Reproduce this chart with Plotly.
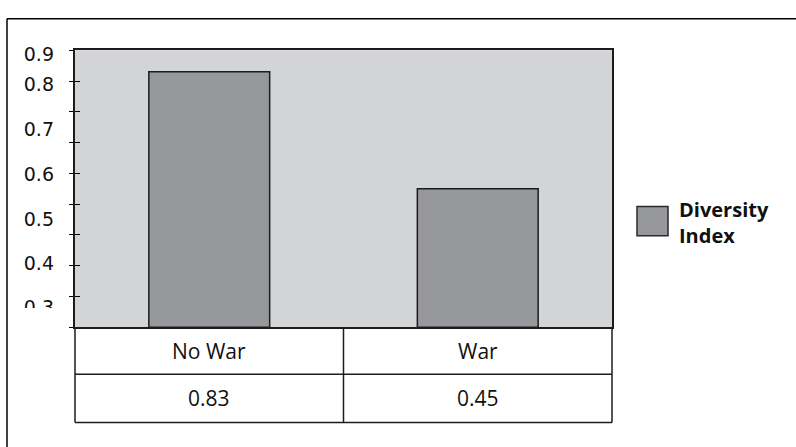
import plotly.graph_objects as go

# ---- data ----
categories = ["No War", "War"]
diversity_index = [0.83, 0.45]
series_name = "Diversity Index"
axis_tick_labels = ["0.9", "0.8", "0.7", "0.6", "0.5", "0.4", "0.3"]

# ---- layout helpers (pixel -> paper) ----
W, H = 796, 447


def px(x):
    return x / W


def py(y):
    return 1 - y / H


PLOT_L, PLOT_R, PLOT_T, PLOT_B = 75, 612, 43, 325
ROW1_B, ROW2_B = 373, 422
Y_RANGE = [0, 0.9]
# vertical placement of the axis labels along the value scale
label_positions = [0.888, 0.788, 0.643, 0.498, 0.352, 0.208, 0.064]

BG = "#D3D4D6"
BAR = "#97989C"
EDGE = "#1c1c1c"

fig = go.Figure()

fig.add_trace(go.Bar(
    x=categories,
    y=diversity_index,
    name=series_name,
    width=0.45,
    marker=dict(color=BAR, line=dict(color=EDGE, width=1.5)),
    showlegend=False,
    hoverinfo="x+y",
))
# empty traces so the overlay axes (cross ticks, labels) are drawn
fig.add_trace(go.Scatter(x=[], y=[], yaxis="y2", showlegend=False))
fig.add_trace(go.Scatter(x=[], y=[], yaxis="y3", showlegend=False))

fig.update_layout(
    width=W,
    height=H,
    autosize=False,
    margin=dict(l=0, r=0, t=0, b=0, pad=0),
    paper_bgcolor="white",
    plot_bgcolor=BG,
    showlegend=False,
    xaxis=dict(
        domain=[px(PLOT_L), px(PLOT_R)],
        range=[-0.5, len(categories) - 0.5],
        showticklabels=False,
        ticks="",
        showgrid=False,
        zeroline=False,
        showline=True,
        linecolor=EDGE,
        linewidth=1.5,
        mirror=True,
        fixedrange=True,
    ),
    yaxis=dict(
        domain=[py(PLOT_B), py(PLOT_T)],
        range=Y_RANGE,
        tick0=0,
        dtick=0.1,
        ticks="outside",
        ticklen=4,
        tickcolor="black",
        tickwidth=1,
        showticklabels=False,
        showgrid=False,
        zeroline=False,
        showline=True,
        linecolor=EDGE,
        linewidth=1.5,
        mirror=True,
        fixedrange=True,
    ),
    yaxis2=dict(
        overlaying="y",
        anchor="x",
        side="left",
        range=Y_RANGE,
        tick0=0,
        dtick=0.1,
        ticks="inside",
        ticklen=5,
        tickcolor="black",
        tickwidth=1,
        showticklabels=False,
        showgrid=False,
        zeroline=False,
        showline=False,
        fixedrange=True,
    ),
    yaxis3=dict(
        overlaying="y",
        anchor="x",
        side="left",
        range=Y_RANGE,
        tickmode="array",
        tickvals=label_positions,
        ticktext=axis_tick_labels,
        ticks="",
        ticklabelstandoff=20,
        tickfont=dict(family="DejaVu Sans, Verdana, sans-serif", size=19, color="#111111"),
        showgrid=False,
        zeroline=False,
        showline=False,
        fixedrange=True,
    ),
)

shapes = []
line_style = dict(color=EDGE, width=1.5)

# outer chart frame (runs past the right and bottom edges)
shapes.append(dict(type="line", xref="paper", yref="paper",
                   x0=px(7), x1=1, y0=py(11), y1=py(11),
                   line=dict(color="black", width=1.5)))
shapes.append(dict(type="line", xref="paper", yref="paper",
                   x0=px(7), x1=px(7), y0=py(11), y1=0,
                   line=dict(color="black", width=1.5)))

# data table under the plot
n = len(categories)
col_w = (PLOT_R - PLOT_L) / n
for i in range(n + 1):
    xx = PLOT_L + i * col_w
    shapes.append(dict(type="line", xref="paper", yref="paper",
                       x0=px(xx), x1=px(xx), y0=py(PLOT_B), y1=py(ROW2_B),
                       line=line_style))
for yy in (ROW1_B, ROW2_B):
    shapes.append(dict(type="line", xref="paper", yref="paper",
                       x0=px(PLOT_L), x1=px(PLOT_R), y0=py(yy), y1=py(yy),
                       line=line_style))

# lowest axis label is partly hidden under the category band
shapes.append(dict(type="rect", xref="paper", yref="paper",
                   x0=px(14), x1=px(68), y0=py(324), y1=py(305.5),
                   fillcolor="white", line=dict(width=0), layer="above"))

# legend swatch
shapes.append(dict(type="rect", xref="paper", yref="paper",
                   x0=px(637), x1=px(668), y0=py(232), y1=py(202),
                   fillcolor=BAR, line=dict(color="#2a2a2a", width=1.5)))

fig.update_layout(shapes=shapes)

annotations = []
table_font = dict(family="Open Sans", size=21, color="#111111")
for cat, val in zip(categories, diversity_index):
    annotations.append(dict(x=cat, xref="x", y=py((PLOT_B + ROW1_B) / 2), yref="paper",
                            text=cat, showarrow=False, font=table_font,
                            xanchor="center", yanchor="middle"))
    annotations.append(dict(x=cat, xref="x", y=py((ROW1_B + ROW2_B) / 2), yref="paper",
                            text=f"{val:.2f}", showarrow=False, font=table_font,
                            xanchor="center", yanchor="middle"))

# legend text
annotations.append(dict(x=px(677), xref="paper", y=py(218.5), yref="paper",
                        text="<b>" + series_name.replace(" ", "<br>") + "</b>",
                        showarrow=False, align="left",
                        font=dict(family="Open Sans", size=20, color="#111111"),
                        xanchor="left", yanchor="middle"))

fig.update_layout(annotations=annotations)

fig.write_html("out.html", include_plotlyjs=True, config={"displayModeBar": False})
